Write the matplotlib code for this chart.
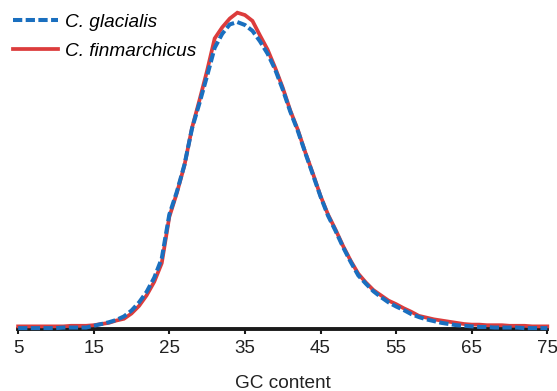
import numpy as np
import matplotlib.pyplot as plt

# GC content (%) and share of sequences (%) for each species
gc = np.arange(5, 76)

glacialis = [0.01, 0.01, 0.01, 0.01, 0.01, 0.01, 0.02, 0.02, 0.02, 0.02,
             0.05, 0.08, 0.11, 0.15, 0.21, 0.31, 0.45, 0.63, 0.87, 1.20,
             1.95, 2.34, 2.80, 3.42, 3.86, 4.32, 4.80, 5.04, 5.20, 5.24,
             5.19, 5.09, 4.91, 4.70, 4.43, 4.09, 3.71, 3.38, 3.00, 2.63,
             2.26, 1.93, 1.67, 1.39, 1.14, 0.91, 0.77, 0.64, 0.54, 0.45,
             0.38, 0.32, 0.25, 0.20, 0.16, 0.13, 0.10, 0.08, 0.06, 0.05,
             0.04, 0.03, 0.03, 0.02, 0.02, 0.02, 0.02, 0.01, 0.01, 0.01, 0.01]

finmarchicus = [0.04, 0.04, 0.04, 0.04, 0.04, 0.04, 0.04, 0.05, 0.05, 0.05,
                0.06, 0.08, 0.10, 0.14, 0.17, 0.26, 0.39, 0.57, 0.80, 1.12,
                1.91, 2.32, 2.79, 3.43, 3.91, 4.41, 4.96, 5.15, 5.30, 5.40,
                5.36, 5.26, 5.01, 4.77, 4.46, 4.12, 3.73, 3.40, 3.01, 2.65,
                2.27, 1.95, 1.69, 1.41, 1.16, 0.94, 0.79, 0.66, 0.57, 0.48,
                0.42, 0.35, 0.29, 0.22, 0.19, 0.16, 0.14, 0.12, 0.10, 0.08,
                0.07, 0.07, 0.06, 0.06, 0.06, 0.05, 0.05, 0.05, 0.04, 0.04, 0.04]

xticks = [5, 15, 25, 35, 45, 55, 65, 75]

plt.rcParams['font.family'] = ['Liberation Sans', 'DejaVu Sans']

fig = plt.figure(figsize=(5.57, 3.91), dpi=100)
ax = fig.add_axes([0.0325, 0.1593, 0.9501, 0.8277])

ax.plot(gc, finmarchicus, color='#DC3C3C', lw=2.7, label='C. finmarchicus',
        zorder=3, clip_on=False, solid_joinstyle='miter')
ax.plot(gc, glacialis, color='#1A6FBF', lw=2.9, dashes=(2.3, 0.85),
        dash_capstyle='butt', label='C. glacialis', zorder=4, clip_on=False)

ax.set_xlim(5, 75)
ax.set_ylim(0, 5.53)
ax.set_xticks(xticks)
ax.set_yticks([])

for s in ['top', 'right', 'left']:
    ax.spines[s].set_visible(False)
ax.spines['bottom'].set_linewidth(2.8)
ax.spines['bottom'].set_color('#1a1a1a')
ax.tick_params(axis='x', direction='out', length=3.8, width=1.5,
               color='#1a1a1a', labelsize=13.5, pad=4.5, labelcolor='#222222')

ax.set_xlabel('GC content', fontsize=13.7, labelpad=12.5, color='#222222')

# legend: glacialis first
h, l = ax.get_legend_handles_labels()
fig.legend(h[::-1], l[::-1], loc='upper left', bbox_to_anchor=(0.0228, 0.966),
           frameon=False, handlelength=2.4, handletextpad=0.35,
           labelspacing=0.64, borderpad=0, borderaxespad=0,
           prop={'style': 'italic', 'size': 13.7})

fig.savefig('out.png', dpi=100)
